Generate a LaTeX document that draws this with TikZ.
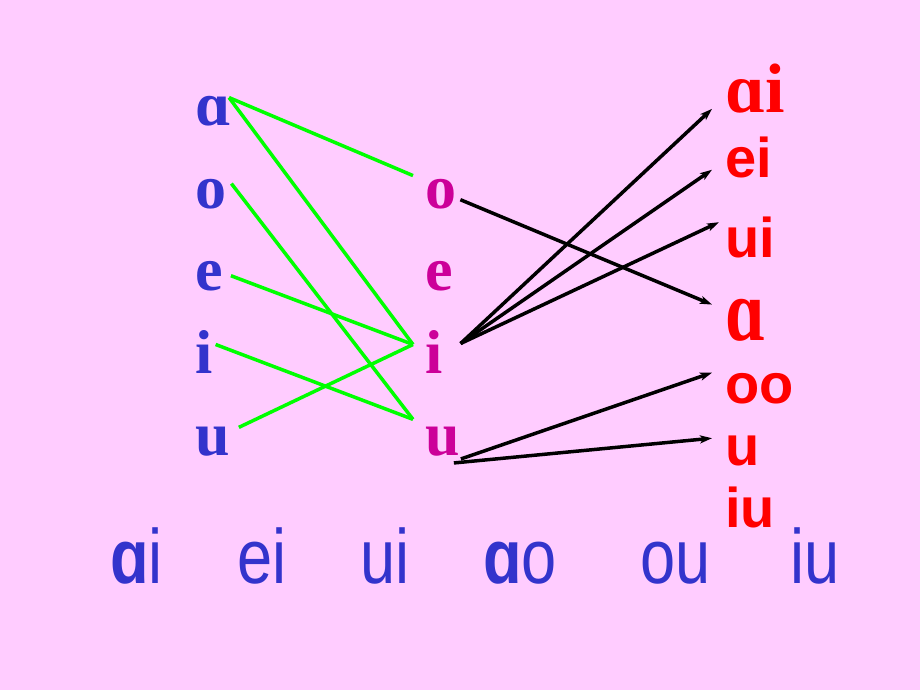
\documentclass[tikz,border=0pt]{standalone}
\usepackage{fontspec}
\setmainfont{Liberation Serif}
\newfontfamily\sansfont{Liberation Sans}
\newfontfamily\narrowfont[FakeStretch=0.82]{Liberation Sans}
\usetikzlibrary{positioning,calc,arrows.meta}
\definecolor{bg}{HTML}{FFCCFF}
\definecolor{letterblue}{HTML}{3333CC}
\definecolor{lettermag}{HTML}{CC0099}
\definecolor{linegreen}{HTML}{00FF00}

\begin{document}
\begin{tikzpicture}[x=1pt,y=-1pt,
    every node/.style={inner sep=0pt,anchor=base west},
    vowel/.style={font=\fontsize{62}{62}\selectfont\bfseries},
    final/.style={text=red,font=\fontsize{56}{56}\selectfont\sansfont\bfseries},
    spell/.style={text=letterblue,font=\fontsize{77}{77}\selectfont\narrowfont},
    match/.style={draw=linegreen,line width=3.5pt},
    link/.style={-{Stealth[length=12pt,width=8pt,inset=3pt]},line width=3.5pt}]

    \fill[bg] (0,0) rectangle (920,690);
    \useasboundingbox (0,0) rectangle (920,690);

    % single vowels
    \node[vowel,text=letterblue] (la) at (195,125) {ɑ};
    \node[vowel,text=letterblue] (lo) at (195,208) {o};
    \node[vowel,text=letterblue] (le) at (195,290) {e};
    \node[vowel,text=letterblue] (li) at (195,373) {i};
    \node[vowel,text=letterblue] (lu) at (195,455) {u};

    \node[vowel,text=lettermag] (mo) at (425,208) {o};
    \node[vowel,text=lettermag] (me) at (425,290) {e};
    \node[vowel,text=lettermag] (mi) at (425,373) {i};
    \node[vowel,text=lettermag] (mu) at (425,455) {u};

    % compound finals
    \node[vowel,text=red,font=\fontsize{70}{70}\selectfont\bfseries] (rai) at (725,113) {ɑi};
    \node[final] (rei) at (725,177) {ei};
    \node[final] (rui) at (725,257) {ui};
    \node[vowel,text=red,font=\fontsize{70}{70}\selectfont\bfseries] (ra) at (725,340) {\scalebox{1}[1.25]{ɑ}};
    \node[final] (roo) at (725,403) {oo};
    \node[final] (ru) at (725,465) {u};
    \node[final] (riu) at (725,527) {iu};

    \node[spell] (bai) at (110,583) {{\bfseries ɑ}i};
    \node[spell] (bei) at (237,583) {ei};
    \node[spell] (bui) at (360,583) {ui};
    \node[spell] (bao) at (483,583) {{\bfseries ɑ}o};
    \node[spell] (bou) at (640,583) {ou};
    \node[spell] (biu) at (790,583) {iu};

    \coordinate (o in) at ($(mo.north west)+(-12,-3)$);
    \coordinate (i in) at ($(mi.west)+(-12,-7)$);
    \coordinate (u in) at ($(mu.north west)+(-12,-7)$);

    \draw[match] ($(la.north east)+(-2,2)$) -- (o in);
    \draw[match] ($(la.north east)+(-2,2)$) -- (i in);
    \draw[match] ($(lo.north east)+(5,5)$) -- (u in);
    \draw[match] ($(le.east)+(8,0)$) -- (i in);
    \draw[match] ($(li.east)+(3,-7)$) -- (u in);
    \draw[match] ($(lu.north east)+(9,1)$) -- (i in);

    \coordinate (i out) at ($(mi.east)+(18,-8)$);

    \draw[link] ($(mo.east)+(4,6)$) -- ($(ra.north west)+(-13,6)$);
    \draw[link] (i out) -- ($(rai.south west)+(-13,-5)$);
    \draw[link] (i out) -- ($(rei.south west)+(-13,-8)$);
    \draw[link] (i out) -- ($(rui.north west)+(-6,6)$);
    \draw[link] ($(mu.south east)+(1,3)$) -- ($(roo.north west)+(-13,0)$);
    \draw[link] ($(mu.south east)+(-6,7)$) -- ($(ru.north west)+(-13,3)$);
\end{tikzpicture}
\end{document}
